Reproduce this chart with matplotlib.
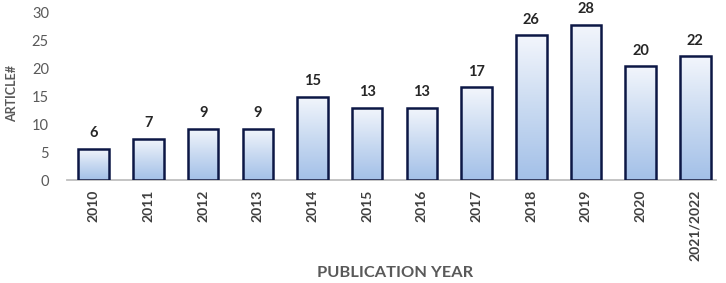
import numpy as np
import matplotlib
matplotlib.use("Agg")
import matplotlib.pyplot as plt
from matplotlib.colors import LinearSegmentedColormap

# datos
years = ["2010", "2011", "2012", "2013", "2014", "2015", "2016",
         "2017", "2018", "2019", "2020", "2021/2022"]
bar_heights = [5.6, 7.4, 9.2, 9.2, 15.0, 13.0, 13.0, 16.7, 26.0, 27.9, 20.5, 22.3]
count_labels = [6, 7, 9, 9, 15, 13, 13, 17, 26, 28, 20, 22]
y_ticks = [0, 5, 10, 15, 20, 25, 30]

plt.rcParams["font.family"] = ["Lato", "DejaVu Sans"]

fig = plt.figure(figsize=(7.26, 2.83), dpi=100)
ax = fig.add_axes([67 / 726, 1 - 180 / 283, 649 / 726, 167 / 283])

x = np.arange(len(years))
bars = ax.bar(x, bar_heights, width=0.56, facecolor="none",
              edgecolor="#0c1745", linewidth=1.8, zorder=3)

# degradado vertical dentro de cada barra
cmap = LinearSegmentedColormap.from_list("grad", ["#a3c0e8", "#c9daf1", "#f3f6fc"])
grad = np.linspace(0, 1, 256).reshape(-1, 1)
for b in bars:
    x0, y0 = b.get_x(), b.get_y()
    im = ax.imshow(grad, cmap=cmap, origin="lower", aspect="auto",
                   extent=[x0, x0 + b.get_width(), y0, y0 + b.get_height()],
                   zorder=2)
    im.set_clip_path(b)

for xi, h, lab in zip(x, bar_heights, count_labels):
    ax.annotate(str(lab), (xi, h), xytext=(0, 6), textcoords="offset points",
                ha="center", va="bottom", fontsize=10.5, fontweight="bold",
                color="#262626")

ax.set_xlim(-0.49, 11.38)
ax.set_ylim(0, 30)
ax.set_yticks(y_ticks)
ax.set_xticks(x)
ax.set_xticklabels(years, rotation=90, fontsize=10, fontweight="bold", color="#404040")
ax.tick_params(axis="x", length=0, pad=7)
ax.tick_params(axis="y", length=0, pad=13, labelsize=10.5, labelcolor="#595959")

for s in ["top", "right", "left"]:
    ax.spines[s].set_visible(False)
ax.spines["bottom"].set_color("#bfbfbf")
ax.spines["bottom"].set_linewidth(1.3)

ax.set_ylabel("ARTICLE#", fontsize=9, fontweight="bold", color="#595959", va="center")
ax.yaxis.set_label_coords((12 - 67) / 649, 0.52)
ax.set_xlabel("PUBLICATION YEAR", fontsize=11.8, fontweight="bold", color="#595959",
              va="center")
ax.xaxis.set_label_coords((395 - 67) / 649, (180 - 273) / 167)

fig.savefig("out.png", dpi=100)
